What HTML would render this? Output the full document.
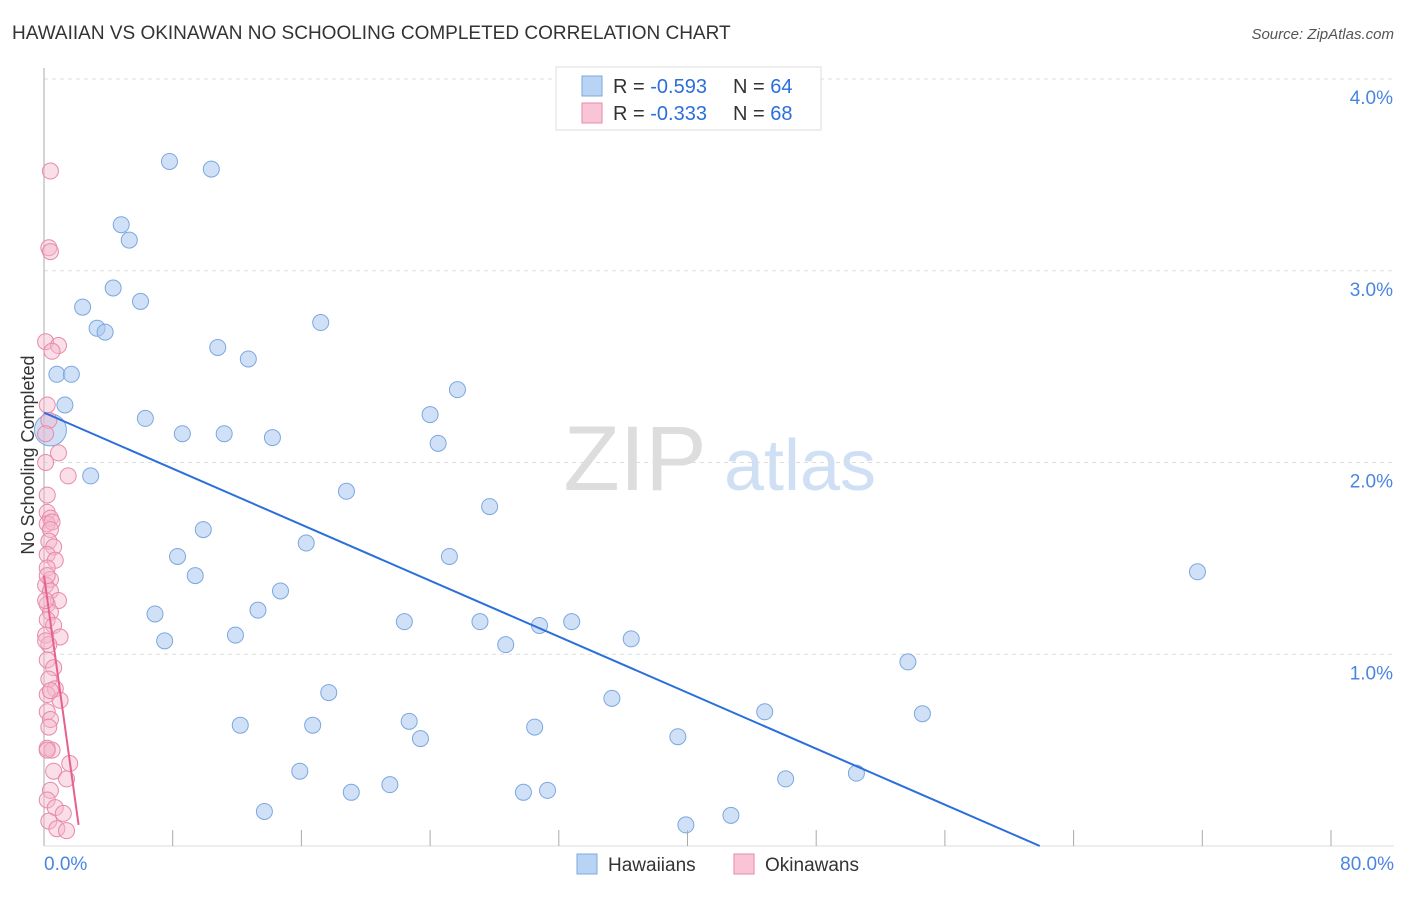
<!DOCTYPE html>
<html><head><meta charset="utf-8"><style>
body{margin:0;background:#fff;font-family:"Liberation Sans",sans-serif;}
svg text{font-family:"Liberation Sans",sans-serif;}
</style></head><body>
<svg id="c" width="1406" height="892" viewBox="0 0 1406 892">
<text x="12" y="39" font-size="19" fill="#333">HAWAIIAN VS OKINAWAN NO SCHOOLING COMPLETED CORRELATION CHART</text>
<text x="1394" y="39" font-size="15" fill="#555" text-anchor="end" font-style="italic">Source: ZipAtlas.com</text>
<g>
<text x="635" y="490" font-size="92" fill="#ddd" text-anchor="middle" font-family="Liberation Serif">ZIP</text>
<text x="800" y="490" font-size="72" fill="#cfe0f5" text-anchor="middle">atlas</text>
</g>
<text transform="translate(34,455) rotate(-90)" font-size="18" fill="#333" text-anchor="middle">No Schooling Completed</text>
<g id="grid"></g><g id="pts"></g><g id="lines"></g>
<g>
<rect x="556" y="67" width="265" height="63" fill="#fff" stroke="#ddd"/>
<rect x="582" y="76" width="20" height="20" fill="#b9d3f5" stroke="#7ba7e0"/>
<rect x="582" y="103" width="20" height="20" fill="#f9c5d6" stroke="#e889a9"/>
<text x="613" y="93" font-size="20" fill="#333">R = <tspan fill="#2a6fdb">-0.593</tspan></text>
<text x="733" y="93" font-size="20" fill="#333">N = <tspan fill="#2a6fdb">64</tspan></text>
<text x="613" y="120" font-size="20" fill="#333">R = <tspan fill="#2a6fdb">-0.333</tspan></text>
<text x="733" y="120" font-size="20" fill="#333">N = <tspan fill="#2a6fdb">68</tspan></text>
</g>
<g>
<rect x="577" y="854" width="20" height="20" fill="#b9d3f5" stroke="#7ba7e0"/>
<text x="608" y="871" font-size="19" fill="#333">Hawaiians</text>
<rect x="734" y="854" width="20" height="20" fill="#f9c5d6" stroke="#e889a9"/>
<text x="765" y="871" font-size="19" fill="#333">Okinawans</text>
</g>
</svg>
<script>
const yTicks=[1,2,3,4];
const yTickLabels=["1.0%","2.0%","3.0%","4.0%"];
const xTicks=[8,16,24,32,40,48,56,64,72,80];
const hawX=[7.8,10.4,4.8,5.3,4.3,6.0,2.4,3.3,3.8,17.2,10.8,12.7,0.8,1.7,25.7,1.3,24.0,6.3,8.6,11.2,14.2,24.5,2.9,18.8,27.7,9.9,16.3,8.3,25.2,9.4,14.7,71.7,6.9,13.3,22.4,27.1,30.8,32.8,7.5,11.9,28.7,36.5,53.7,17.7,35.3,44.8,54.6,12.2,16.7,22.7,30.5,23.4,39.4,15.9,46.1,50.5,19.1,21.5,29.8,31.3,13.7,42.7,39.9,0.4];
const hawY=[3.57,3.53,3.24,3.16,2.91,2.84,2.81,2.70,2.68,2.73,2.60,2.54,2.46,2.46,2.38,2.30,2.25,2.23,2.15,2.15,2.13,2.10,1.93,1.85,1.77,1.65,1.58,1.51,1.51,1.41,1.33,1.43,1.21,1.23,1.17,1.17,1.15,1.17,1.07,1.10,1.05,1.08,0.96,0.80,0.77,0.70,0.69,0.63,0.63,0.65,0.62,0.56,0.57,0.39,0.35,0.38,0.28,0.32,0.28,0.29,0.18,0.16,0.11,2.17];
const okiX=[0.4,0.3,0.4,0.1,0.9,0.5,0.2,0.3,0.1,0.9,1.5,0.2,0.2,0.4,0.2,0.5,0.4,0.3,0.6,0.2,0.7,0.2,0.4,0.1,0.4,0.9,0.2,0.4,0.2,0.6,0.1,1.0,0.3,0.2,0.6,0.3,0.7,0.2,1.0,0.2,0.4,0.3,0.2,0.5,1.6,0.6,1.4,0.4,0.2,0.7,1.2,0.3,0.8,1.4,0.2,0.4,0.1,0.1,0.1,0.2];
const okiY=[3.52,3.12,3.10,2.63,2.61,2.58,2.30,2.22,2.15,2.05,1.93,1.83,1.74,1.71,1.68,1.69,1.65,1.59,1.56,1.52,1.49,1.45,1.39,1.36,1.33,1.28,1.26,1.22,1.18,1.15,1.10,1.09,1.05,0.97,0.93,0.87,0.82,0.79,0.76,0.70,0.66,0.62,0.51,0.50,0.43,0.39,0.35,0.29,0.24,0.20,0.17,0.13,0.09,0.08,0.50,0.81,2.00,1.28,1.07,1.41];
const hawLine=[0,2.26,61.9,0];
const okiLine=[0,1.41,2.15,0.11];
const X=v=>44+v*1287/80, Y=v=>846-v*191.75;
const ns="http://www.w3.org/2000/svg";
function mk(t,a,p){const e=document.createElementNS(ns,t);for(const k in a)e.setAttribute(k,a[k]);p.appendChild(e);return e;}
const g=document.getElementById('grid');
yTicks.forEach((v,i)=>{
 const l=mk('line',{x1:44,x2:1394,y1:Y(v),y2:Y(v),stroke:'#ddd','stroke-dasharray':'4,4'},g);
 
 
 const t=mk('text',{x:1393,y:Y(v)+25,'font-size':19,fill:'#4a86e0','text-anchor':'end'},g);
 t.textContent=yTickLabels[i];
 
 
});
mk('line',{x1:44,x2:44,y1:68,y2:846,stroke:'#aaa'},g);
mk('line',{x1:44,x2:1394,y1:846,y2:846,stroke:'#ddd'},g);
xTicks.forEach(v=>{const l=mk('line',{x1:X(v),x2:X(v),y1:830,y2:846,stroke:'#aaa'},g);
 
 });
let t=mk('text',{x:44,y:870,'font-size':19,fill:'#4a86e0'},g);t.textContent='0.0%';


t=mk('text',{x:1394,y:870,'font-size':19,fill:'#4a86e0','text-anchor':'end'},g);t.textContent='80.0%';


const p=document.getElementById('pts');
hawX.forEach((v,i)=>{const c=mk('circle',{cx:X(v),cy:Y(hawY[i]),r:i==hawX.length-1?16:8,fill:'#a9c8f0','fill-opacity':0.55,stroke:'#7ba7e0','stroke-width':1},p);
 
 });
okiX.forEach((v,i)=>{const c=mk('circle',{cx:X(v),cy:Y(okiY[i]),r:8,fill:'#f5b8cc','fill-opacity':0.45,stroke:'#e889a9','stroke-width':1},p);
 
 });
const L=document.getElementById('lines');
let a=mk('line',{x1:X(hawLine[0]),y1:Y(hawLine[1]),x2:X(hawLine[2]),y2:Y(hawLine[3]),stroke:'#2a6fdb','stroke-width':2},L);


a=mk('line',{x1:X(okiLine[0]),y1:Y(okiLine[1]),x2:X(okiLine[2]),y2:Y(okiLine[3]),stroke:'#e8608c','stroke-width':2},L);


</script>
</body></html>
